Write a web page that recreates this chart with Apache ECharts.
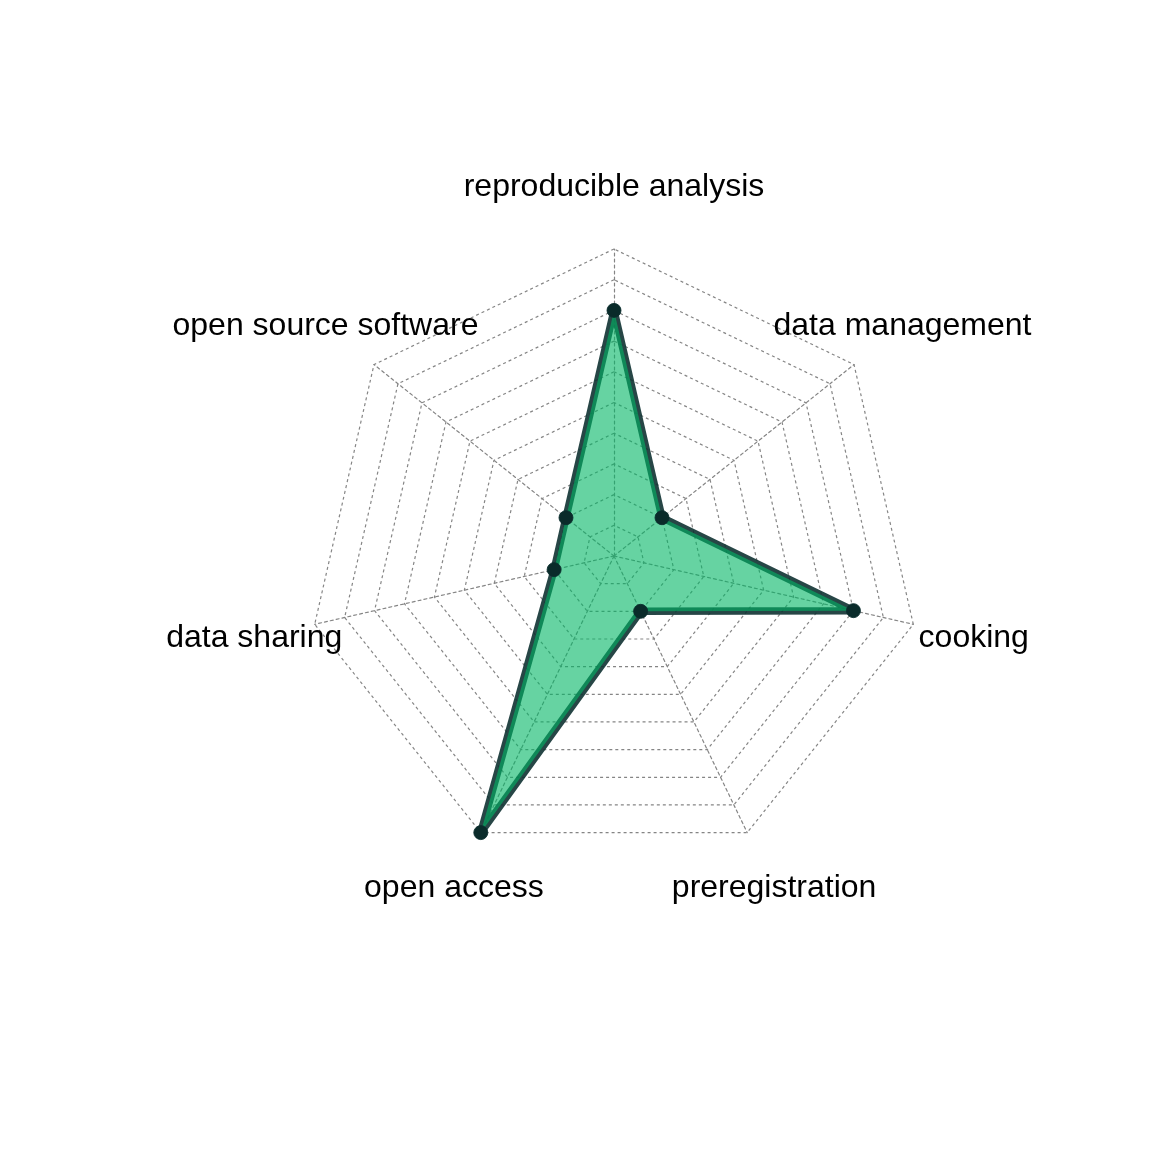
<!DOCTYPE html>
<html>
<head>
<meta charset="utf-8">
<script src="https://cdn.jsdelivr.net/npm/echarts@6/dist/echarts.min.js"></script>
<style>
html,body{margin:0;padding:0;background:#fff;}
#chart{width:1152px;height:1152px;}
</style>
</head>
<body>
<div id="chart"></div>
<script>
var categories = ['reproducible analysis', 'open source software', 'data sharing', 'open access', 'preregistration', 'cooking', 'data management'];
var values = [8, 2, 2, 10, 2, 8, 2];
var maxValue = 10;
var gridLevels = 10;

var chart = echarts.init(document.getElementById('chart'), null, {renderer: 'canvas'});
chart.setOption({
  backgroundColor: '#ffffff',
  animation: false,
  radar: {
    center: [614, 556],
    radius: 307,
    startAngle: 90,
    splitNumber: gridLevels,
    shape: 'polygon',
    indicator: categories.map(function (c) { return {name: c, max: maxValue, min: 0}; }),
    nameGap: 62,
    axisName: {
      color: '#000',
      fontFamily: 'Liberation Sans, Arial, Helvetica, sans-serif',
      fontSize: 32,
      align: 'center',
      verticalAlign: 'middle'
    },
    splitArea: {show: false},
    splitLine: {lineStyle: {color: '#858585', width: 1.2, type: [3, 3]}},
    axisLine: {lineStyle: {color: '#858585', width: 1.2, type: [3, 3]}},
    axisTick: {show: false},
    axisLabel: {show: false}
  },
  series: [{
    type: 'radar',
    symbol: 'circle',
    symbolSize: 14,
    data: [{
      value: values,
      lineStyle: {color: 'rgba(15,50,50,0.9)', width: 7.5, opacity: 1},
      itemStyle: {color: '#0a2b2a', borderColor: 'rgba(10,45,45,0.88)', borderWidth: 1, opacity: 1},
      areaStyle: {color: 'rgb(0,182,100)', opacity: 0.6}
    }]
  }]
});
</script>
</body>
</html>
